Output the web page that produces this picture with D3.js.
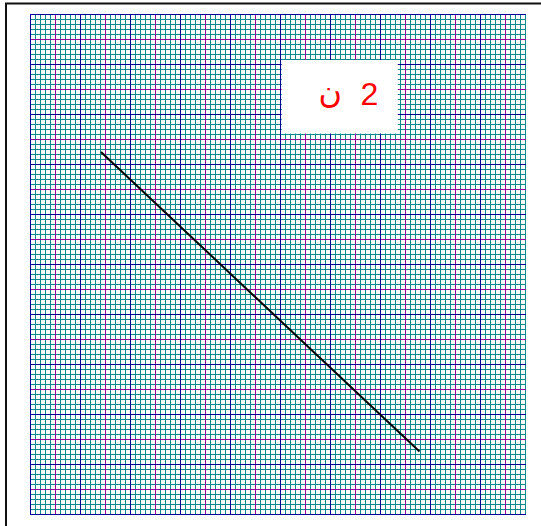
<!DOCTYPE html>
<html>
<head>
<meta charset="utf-8">
<script src="https://cdn.jsdelivr.net/npm/d3@7"></script>
<style>
  html, body { margin: 0; padding: 0; background: #fff; }
  svg { display: block; }
</style>
</head>
<body>
<div class="chart"></div>
<script>
// grid in small squares (x: 0..99, y: 0..100), line end points, label
const gridXMax = 99
const gridYMax = 100
const lineX = [14.2, 77.9]
const lineY = [72.4, 12.5]
const labelBoxX = [50.35, 73.55]
const labelBoxY = [76.1, 90.8]
const labelTexts = ["ن", "2"]
const labelX = [57.7, 66.1]
const labelY = [82.2, 81.8]

const width = 541
const height = 526

let svg = d3.select(".chart")
.append("svg")
.attr("width", width)
.attr("height", height)

let x = d3.scaleLinear()
.domain([0, gridXMax])
.range([30, 525])

let y = d3.scaleLinear()
.domain([0, gridYMax])
.range([514, 14])

// page frame
svg.append("rect")
.attr("x", 6)
.attr("y", 3.5)
.attr("width", 560)
.attr("height", 560)
.style("fill", "none")
.style("stroke", "#111")
.style("stroke-width", 2)

let grid = svg.append("g")
.attr("class", "grid")
.style("shape-rendering", "crispEdges")

const kinds = [
  { test: i => i % 10 != 0 && i % 5 != 0, color: "#0a8a8a" },
  { test: i => i % 10 == 5, color: "#990099" },
  { test: i => i % 10 == 0, color: "#000099" }
]

kinds.forEach(k => {
  grid.selectAll(null)
  .data(d3.range(0, gridXMax + 1).filter(k.test))
  .enter()
  .append("line")
  .attr("x1", d => x(d) + 0.5)
  .attr("x2", d => x(d) + 0.5)
  .attr("y1", y(gridYMax))
  .attr("y2", y(0) + 1)
  .style("stroke", k.color)

  grid.selectAll(null)
  .data(d3.range(0, gridYMax + 1).filter(k.test))
  .enter()
  .append("line")
  .attr("y1", d => y(d) + 0.5)
  .attr("y2", d => y(d) + 0.5)
  .attr("x1", x(0))
  .attr("x2", x(gridXMax) + 1)
  .style("stroke", k.color)
})

// the sloping line
let line = d3.line()
.x(d => x(d[0]))
.y(d => y(d[1]))

svg.append("path")
.datum(d3.zip(lineX, lineY))
.attr("d", line)
.style("fill", "none")
.style("stroke", "#000")
.style("stroke-width", 2)

// label box
svg.append("rect")
.attr("x", x(labelBoxX[0]))
.attr("y", y(labelBoxY[1]))
.attr("width", x(labelBoxX[1]) - x(labelBoxX[0]))
.attr("height", y(labelBoxY[0]) - y(labelBoxY[1]))
.style("fill", "#fff")

svg.selectAll(".label")
.data(labelTexts)
.enter()
.append("text")
.attr("class", "label")
.attr("x", (d, i) => x(labelX[i]))
.attr("y", (d, i) => y(labelY[i]))
.style("font-family", "'Liberation Sans', 'DejaVu Sans', sans-serif")
.style("font-size", "32px")
.style("fill", "#ff0000")
.text(d => d)
</script>
</body>
</html>
